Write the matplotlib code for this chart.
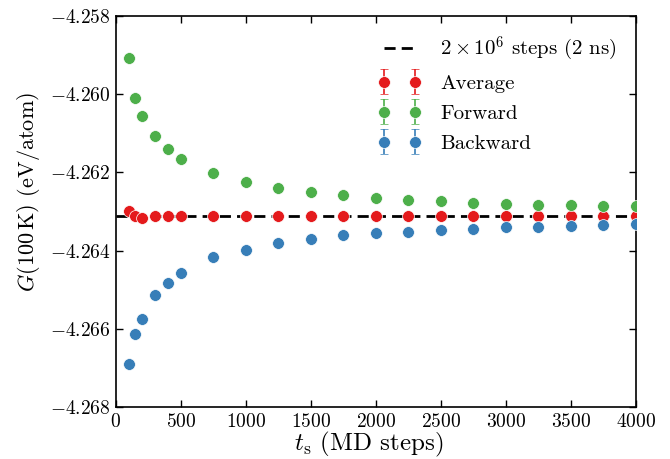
import numpy as np
import matplotlib
matplotlib.use('Agg')
import matplotlib.pyplot as plt
from matplotlib.legend_handler import HandlerErrorbar

#Fonts that look like LaTeX
plt.rcParams['font.family'] = 'serif'
plt.rcParams['font.serif'] = ['cmr10', 'DejaVu Serif']
plt.rcParams['mathtext.fontset'] = 'cm'
plt.rcParams['axes.formatter.use_mathtext'] = True
plt.rcParams['axes.unicode_minus'] = True

#Data
t_s = [100, 150, 200, 300, 400, 500, 750, 1000, 1250, 1500, 1750, 2000,
       2250, 2500, 2750, 3000, 3250, 3500, 3750, 4000]
g_forward = [-4.25907, -4.26010, -4.26056, -4.26107, -4.26140, -4.26166,
             -4.26202, -4.26225, -4.26240, -4.26250, -4.26258, -4.26265,
             -4.26271, -4.26273, -4.26277, -4.26280, -4.26283, -4.26283,
             -4.26286, -4.26286]
g_backward = [-4.26689, -4.26613, -4.26575, -4.26514, -4.26483, -4.26457,
              -4.26416, -4.26397, -4.26380, -4.26370, -4.26360, -4.26355,
              -4.26351, -4.26347, -4.26344, -4.26340, -4.26340, -4.26337,
              -4.26335, -4.26332]
g_average = [-4.26299, -4.26312, -4.26317, -4.26310, -4.26310, -4.26310,
             -4.26310, -4.26310, -4.26310, -4.26310, -4.26310, -4.26310,
             -4.26310, -4.26310, -4.26310, -4.26310, -4.26310, -4.26310,
             -4.26310, -4.26310]
g_err = [0.00002] * len(t_s) #error bars are hidden behind the markers
g_long = -4.26310 #reference from 2e6 steps

red = '#e41a1c'
green = '#4daf4a'
blue = '#377eb8'

fig = plt.figure(figsize=(6.7, 4.59), dpi=100)
ax = fig.add_axes([0.173, 0.113, 0.776, 0.852])

ax.axhline(g_long, color='black', ls='--', lw=2, dashes=(4, 2.2),
           label=r'$2\times10^{6}$ steps (2 ns)', zorder=2)

for y, c, name in [(g_average, red, 'Average'),
                   (g_forward, green, 'Forward'),
                   (g_backward, blue, 'Backward')]:
    ax.errorbar(t_s, y, yerr=g_err, fmt='o', color=c, ms=8.5, mec='white',
                mew=0.5, capsize=3, elinewidth=1.2, capthick=1.2, label=name,
                zorder=3)

ax.set_xlim(0, 4000)
ax.set_ylim(-4.268, -4.258)
ax.set_xticks(np.arange(0, 4001, 500))
ax.set_yticks(np.arange(-4.268, -4.2579, 0.002))
ax.yaxis.set_major_formatter(matplotlib.ticker.FuncFormatter(
    lambda v, p: r'$%.3f$' % v if v >= 0 else r'$-%.3f$' % (-v)))
ax.xaxis.set_major_formatter(matplotlib.ticker.FuncFormatter(
    lambda v, p: r'$%d$' % v))
ax.tick_params(direction='in', top=True, right=True, length=5, width=1,
               labelsize=14, pad=4)
for s in ax.spines.values():
    s.set_linewidth(1.2)

ax.set_xlabel(r'$t_{\rm s}$ (MD steps)', fontsize=18)
ax.set_ylabel(r'$G(100\,{\rm K})$ (eV/atom)', fontsize=16)
ax.xaxis.set_label_coords(0.487, -0.058)
ax.yaxis.set_label_coords(-0.142, 0.55)

ax.legend(loc='upper right', frameon=False, numpoints=2, fontsize=15,
          handlelength=2.1, handletextpad=0.9, labelspacing=0.55,
          borderaxespad=0.5,
          handler_map={matplotlib.container.ErrorbarContainer:
                       HandlerErrorbar(yerr_size=0.6)})

fig.savefig('out.png', dpi=100)
